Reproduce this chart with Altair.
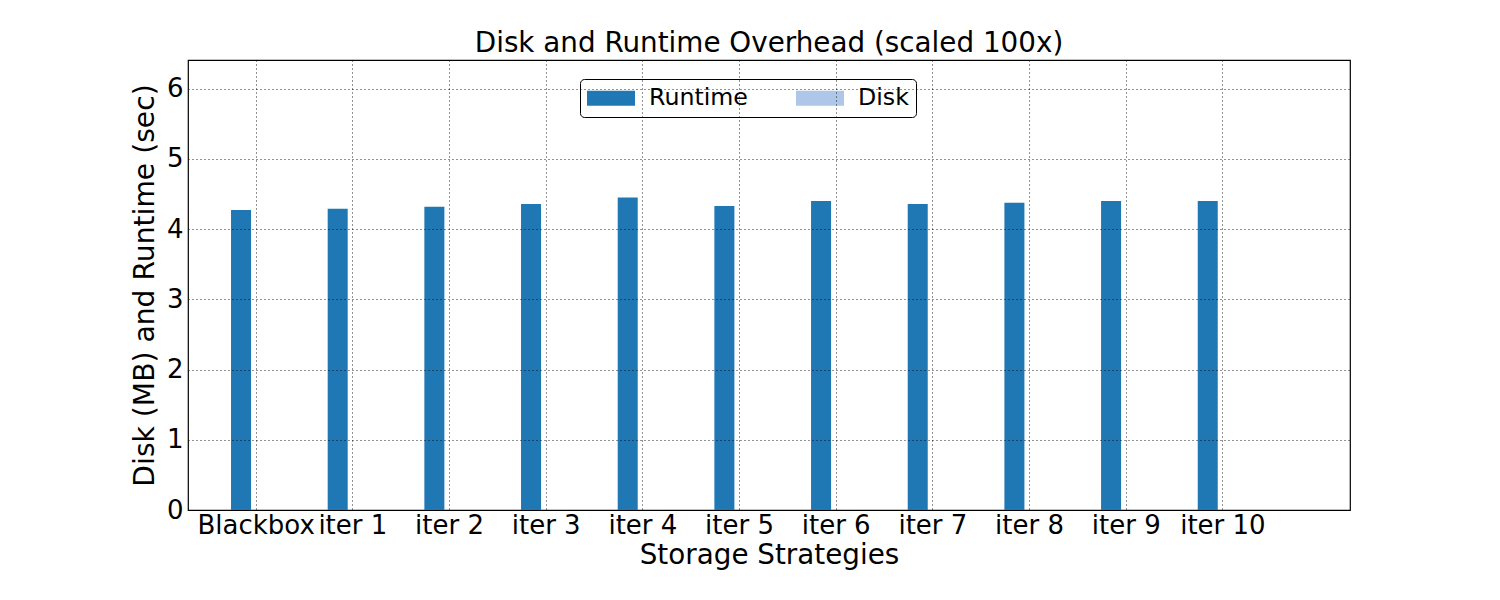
import altair as alt
import pandas as pd

categories = ["Blackbox", "iter 1", "iter 2", "iter 3", "iter 4", "iter 5",
              "iter 6", "iter 7", "iter 8", "iter 9", "iter 10"]
runtime = [4.275, 4.29, 4.32, 4.36, 4.45, 4.33, 4.40, 4.36, 4.375, 4.40, 4.40]
disk = [0.0, 0.0, 0.0, 0.01, 0.01, 0.01, 0.01, 0.0, 0.0, 0.0, 0.0]
series = ["Runtime", "Disk"]
colors = ["#1f77b4", "#aec7e8"]

rows = []
for i, c in enumerate(categories):
    rows.append({"idx": i, "cat": c, "series": "Runtime", "value": runtime[i]})
    rows.append({"idx": i, "cat": c, "series": "Disk", "value": disk[i]})
df = pd.DataFrame(rows)

label_expr = "[" + ",".join('"%s"' % c for c in categories) + "][datum.value]"

FONT = "DejaVu Sans"

bars = alt.Chart(df).transform_calculate(
    x0="datum.idx + (datum.series == 'Runtime' ? -0.255 : 0.03)",
).transform_calculate(
    x1="datum.x0 + 0.207"
).mark_bar(strokeWidth=0).encode(
    x=alt.X("x0:Q",
            scale=alt.Scale(domain=[-0.70, 11.32], nice=False, zero=False),
            axis=alt.Axis(values=list(range(len(categories))), labelExpr=label_expr,
                          title="Storage Strategies", grid=True, gridColor="black",
                          gridDash=[1, 3], gridOpacity=0.85, gridWidth=1,
                          domain=False, ticks=False, labelFontSize=26,
                          labelPadding=2, labelFont=FONT, labelColor="black",
                          titleFont=FONT, titleFontSize=27.8, titleFontWeight="normal",
                          titleColor="black", titlePadding=3, zindex=1,
                          labelFlush=False, labelOverlap=False)),
    x2="x1:Q",
    y=alt.Y("value:Q",
            scale=alt.Scale(domain=[0, 6.41], nice=False),
            axis=alt.Axis(values=list(range(7)), format="d",
                          title="Disk (MB) and Runtime (sec)", grid=True,
                          gridColor="black", gridDash=[1, 3], gridOpacity=0.85,
                          gridWidth=1, domain=False, ticks=False,
                          labelFontSize=26, labelPadding=5, labelFont=FONT,
                          labelColor="black", titleFont=FONT, titleFontSize=28.2,
                          titleFontWeight="normal", titleColor="black",
                          titlePadding=7, zindex=1, labelFlush=False)),
    y2=alt.datum(0),
    color=alt.Color("series:N",
                    scale=alt.Scale(domain=series, range=colors),
                    legend=alt.Legend(title=None, orient="none", legendX=392, legendY=19,
                                      direction="horizontal", columns=2,
                                      symbolType="M-1,-0.625H3V0.625H-1Z",
                                      symbolSize=576, symbolStrokeWidth=0,
                                      labelFont=FONT, labelFontSize=23.7,
                                      labelColor="black", labelOffset=38,
                                      columnPadding=48, padding=7,
                                      strokeColor="black", fillColor="white",
                                      cornerRadius=4)),
)

chart = bars.properties(
    width=1162, height=450,
    title=alt.TitleParams("Disk and Runtime Overhead (scaled 100x)", font=FONT,
                          fontSize=27.8, fontWeight="normal", color="black",
                          anchor="middle", offset=2),
    autosize=alt.AutoSizeParams(type="none"),
    padding={"left": 188, "top": 60, "right": 150, "bottom": 90},
    background="white",
).configure_view(stroke="black", strokeWidth=1.2)

chart.save("out.html", embed_options={"renderer": "svg", "actions": False})
